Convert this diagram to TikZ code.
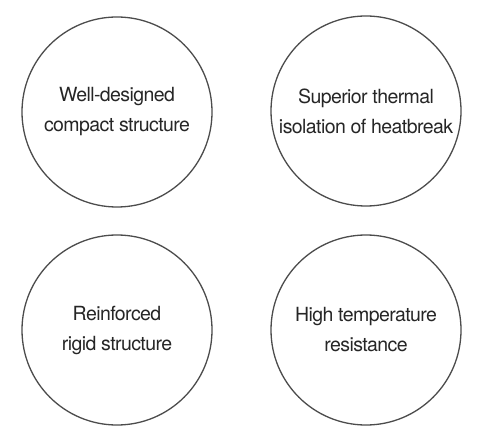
\documentclass[tikz,border=0pt]{standalone}
\usepackage{fontspec}
\setmainfont{TeX Gyre Heros}[LetterSpace=-3]
\begin{document}
\begin{tikzpicture}[x=1pt,y=1pt,
  bubble/.style={circle,draw=black!70,line width=1.3pt,minimum size=190pt,inner sep=0pt,
    align=center,font=\fontsize{19.5}{30}\selectfont,text=black!85}]
\useasboundingbox[fill=white] (0,0) rectangle (478,439);
\node[bubble] (a) at (117,327) {Well-designed\\compact structure};
\node[bubble] (b) at (366,328) {Superior thermal\\isolation of heatbreak};
\node[bubble] (c) at (117,109) {Reinforced\\rigid structure};
\node[bubble] (d) at (366,109) {High temperature\\resistance};
\end{tikzpicture}
\end{document}
